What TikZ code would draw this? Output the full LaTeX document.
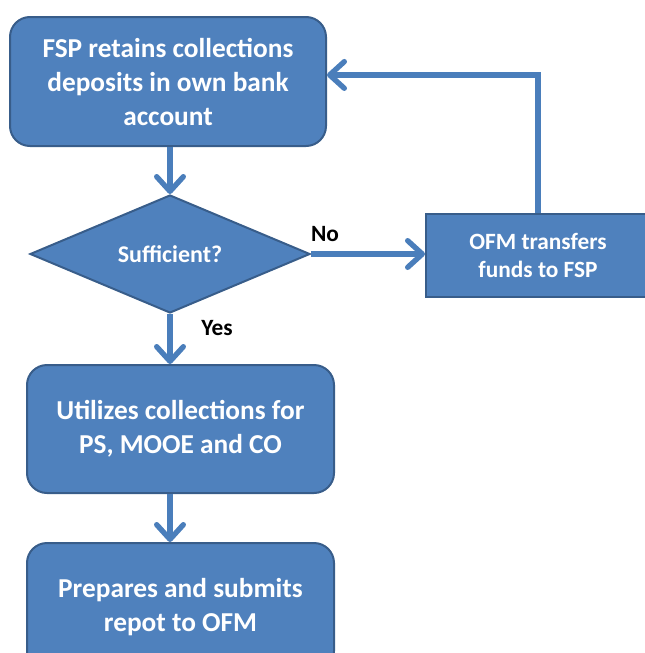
\documentclass[tikz,border=0pt]{standalone}
\usepackage{fontspec}
\setmainfont{Carlito}
\usetikzlibrary{shapes.geometric,arrows.meta,calc}
\definecolor{boxfill}{HTML}{4F81BD}
\definecolor{boxline}{HTML}{385D8A}
\definecolor{connline}{HTML}{4A7EBB}
\begin{document}
\begin{tikzpicture}[x=0.75pt,y=-0.75pt,
  procbox/.style={draw=boxline,line width=1.5pt,fill=boxfill,rounded corners=15pt,
    text=white,font=\bfseries\fontsize{20.5}{25.5}\selectfont,align=center,inner sep=0pt},
  sqbox/.style={draw=boxline,line width=1.5pt,fill=boxfill,
    text=white,font=\bfseries\fontsize{17.5}{21}\selectfont,align=center,inner sep=0pt},
  decision/.style={diamond,draw=boxline,line width=1.5pt,fill=boxfill,
    text=white,font=\bfseries\fontsize{18}{20}\selectfont,inner sep=0pt,aspect=2.37},
  conn/.style={draw=connline,line width=4pt,
    -{Straight Barb[length=11pt,width=20pt,round]}},
  lbl/.style={font=\bfseries\fontsize{17.5}{20}\selectfont,text=black,inner sep=0pt}]
\clip (0,0) rectangle (645,653);
\node[procbox,minimum width=237pt,minimum height=96.75pt] (top) at (168,81.5)
  {FSP retains collections\\deposits in own bank\\account};
\node[decision,minimum width=210pt,minimum height=88.5pt] (dia) at (170,254) {Sufficient?};
\node[sqbox,minimum width=168pt,minimum height=62.25pt] (ofm) at (538,255.5)
  {OFM transfers\\funds to FSP};
\node[procbox,minimum width=230.25pt,minimum height=96pt] (mid) at (180.5,429)
  {Utilizes collections for\\PS, MOOE and CO};
\node[procbox,minimum width=230.25pt,minimum height=96pt] (bot) at (180.5,607)
  {Prepares and submits\\repot to OFM};
\draw[conn] (top.south -| dia.north) -- (dia.north);
\draw[conn] (dia.east) -- (dia.east -| ofm.west);
\draw[conn] (dia.south) -- (dia.south |- mid.north);
\draw[conn] (mid.south -| dia.south) -- (bot.north -| dia.south);
\draw[conn] (ofm.north) |- ([yshift=4.9pt]top.east);
\node[lbl] (no) at (325,234) {No};
\node[lbl] (yes) at (217,328) {Yes};
\end{tikzpicture}
\end{document}
